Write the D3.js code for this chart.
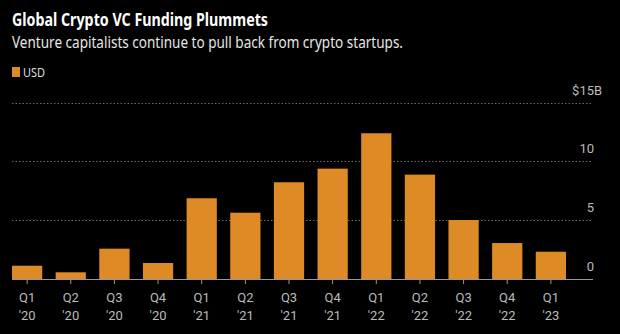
<!DOCTYPE html>
<html>
<head>
<meta charset="utf-8">
<script src="https://cdn.jsdelivr.net/npm/d3@7"></script>
<style>
    body { margin: 0; background: #000; }
    svg { display: block; font-family: "Noto Sans", Roboto, sans-serif; }
</style>
</head>
<body>
<svg id="chart" width="620" height="334"></svg>
<script>
// Quarterly crypto VC funding, billions USD
const quarters = ['Q1', 'Q2', 'Q3', 'Q4', 'Q1', 'Q2', 'Q3', 'Q4', 'Q1', 'Q2', 'Q3', 'Q4', 'Q1'];
const years = ["'20", "'20", "'20", "'20", "'21", "'21", "'21", "'21", "'22", "'22", "'22", "'22", "'23"];
const funding = [1.13, 0.57, 2.58, 1.36, 6.87, 5.64, 8.23, 9.39, 12.4, 8.88, 5.02, 3.06, 2.32];
const yTicks = [0, 5, 10, 15];

const keys = quarters.map((q, i) => q + years[i]);

const svg = d3.select('#chart');
const barColor = '#dd8a27';

const baseY = 279, topY = 102.7;
const x = d3.scaleBand().domain(keys).range([12, 566]).paddingInner(0.307).paddingOuter(0);
const y = d3.scaleLinear().domain([0, 15]).range([baseY, topY]);

// Titles
svg.append('text').attr('x', 12).attr('y', 26)
    .attr('fill', '#fff').attr('font-size', 18).attr('font-weight', 700)
    .attr('textLength', 256).attr('lengthAdjust', 'spacingAndGlyphs')
    .text('Global Crypto VC Funding Plummets');
svg.append('text').attr('x', 12).attr('y', 48)
    .attr('fill', '#e6e6e6').attr('font-size', 17)
    .attr('textLength', 391).attr('lengthAdjust', 'spacingAndGlyphs')
    .text('Venture capitalists continue to pull back from crypto startups.');

// Legend
svg.append('rect').attr('x', 12).attr('y', 67).attr('width', 8).attr('height', 10).attr('fill', barColor);
svg.append('text').attr('x', 23).attr('y', 77).attr('fill', '#ddd').attr('font-size', 12)
    .attr('textLength', 22).attr('lengthAdjust', 'spacingAndGlyphs').text('USD');

// Gridlines
svg.append('g').selectAll('line').data(yTicks.filter(d => d > 0)).join('line')
    .attr('x1', 12).attr('x2', 593)
    .attr('y1', d => Math.round(y(d)) + 0.5).attr('y2', d => Math.round(y(d)) + 0.5)
    .attr('stroke', '#6a6a6a').attr('stroke-width', 1).attr('stroke-dasharray', '1.5,2');

// Y labels
const yl = svg.append('g').attr('font-family', 'Roboto, sans-serif').attr('font-size', 13).attr('fill', '#bbb');
yTicks.forEach(t => {
    const top = t === d3.max(yTicks);
    yl.append('text').attr('x', 594).attr('y', y(t) - 8).attr('text-anchor', 'end')
        .text(top ? '$' + t : t);
    if (top) yl.append('text').attr('x', 594).attr('y', y(t) - 8).text('B');
});

// Bars
svg.append('g').selectAll('rect').data(funding).join('rect')
    .attr('x', (d, i) => x(keys[i]))
    .attr('width', x.bandwidth())
    .attr('y', d => y(d))
    .attr('height', d => baseY - y(d))
    .attr('fill', barColor);

// X axis
const xAxis = d3.axisBottom(x).tickSize(5).tickFormat('');
const ax = svg.append('g').attr('transform', `translate(0,${baseY})`).call(xAxis);
ax.select('.domain').remove();
ax.selectAll('.tick line').attr('stroke', '#999');
svg.append('line').attr('x1', 12).attr('x2', 593).attr('y1', baseY + 0.5).attr('y2', baseY + 0.5)
    .attr('stroke', '#999').attr('stroke-width', 1.2);

const xl = svg.append('g').attr('font-family', 'Roboto, sans-serif').attr('font-size', 13)
    .attr('fill', '#bbb').attr('text-anchor', 'middle');
keys.forEach((k, i) => {
    const cx = x(k) + x.bandwidth() / 2;
    xl.append('text').attr('x', cx).attr('y', 302).text(quarters[i]);
    xl.append('text').attr('x', cx).attr('y', 320).text(years[i]);
});
</script>
</body>
</html>
